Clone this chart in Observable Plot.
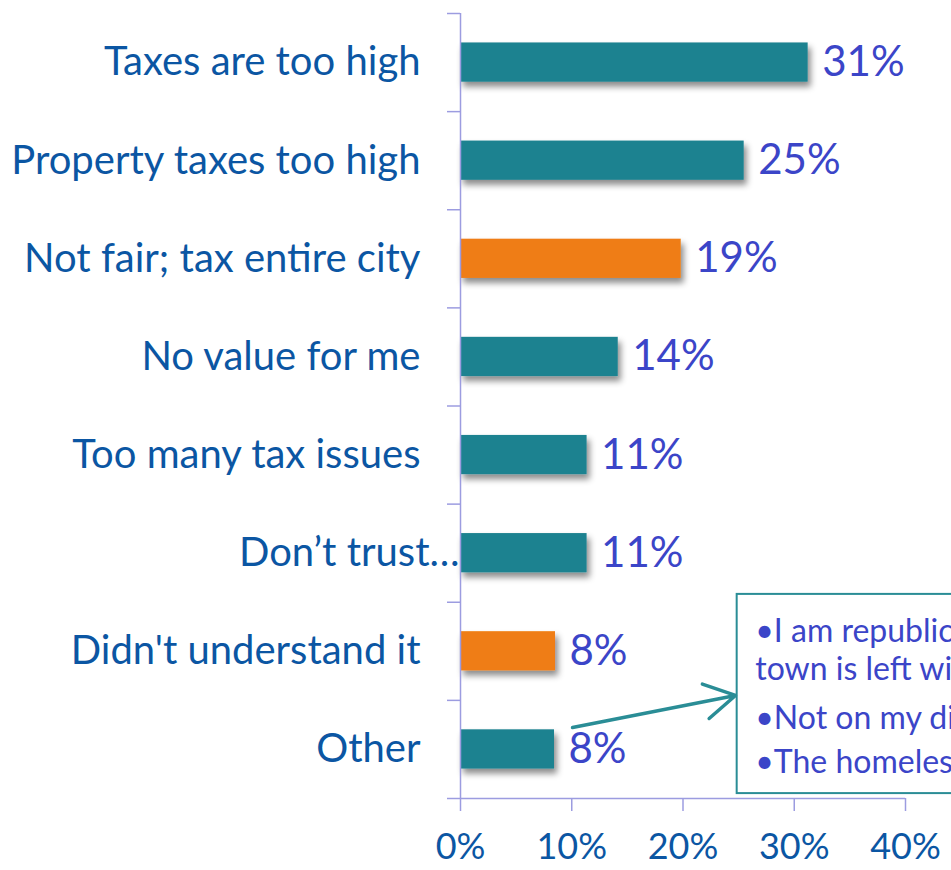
<!DOCTYPE html>
<html>
<head>
<meta charset="utf-8">
<script src="https://cdn.jsdelivr.net/npm/d3@7"></script>
<script src="https://cdn.jsdelivr.net/npm/@observablehq/plot@0.6"></script>
<style>
  html, body { margin: 0; padding: 0; background: #fff; overflow: hidden; }
  #chart { width: 951px; height: 870px; overflow: hidden; }
  #chart svg { overflow: hidden; }
</style>
</head>
<body>
<div id="chart"></div>
<script>
// ---- data ----
const categories = [
  "Taxes are too high",
  "Property taxes too high",
  "Not fair; tax entire city",
  "No value for me",
  "Too many tax issues",
  "Don’t trust…",
  "Didn't understand it",
  "Other"
];
// bar lengths (percent)
const values = [31.25, 25.5, 19.84, 14.18, 11.38, 11.38, 8.54, 8.45];
// value labels as printed on the chart
const valueLabels = ["31%", "25%", "19%", "14%", "11%", "11%", "8%", "8%"];
const highlighted = [false, false, true, false, false, false, true, false];
const xTicks = [0, 10, 20, 30, 40];
const calloutLines = [
  "•I am republican and this",
  "town is left wing",
  "•Not on my dime",
  "•The homeless problem"
];

// ---- styles ----
const teal = "#1f8290";
const orange = "#ef7d14";
const axisColor = "#9c9ce0";
const catColor = "#0b56a3";
const valColor = "#3b45c8";
const boxColor = "#2a8d96";

const data = categories.map((c, i) => ({i, category: c, value: values[i], label: valueLabels[i], hi: highlighted[i]}));
const boundaries = d3.range(categories.length + 1).map(k => k - 0.5);
const callout = calloutLines.map((t, k) => ({t, k}));
const lineY = [5.907, 6.297, 6.787, 7.245];

const chart = Plot.plot({
  width: 951,
  height: 870,
  marginLeft: 460,
  marginRight: 46,
  marginTop: 13,
  marginBottom: 72,
  style: {fontFamily: "Lato, 'Open Sans', sans-serif", background: "#fff"},
  x: {domain: [0, 40], axis: null, label: null},
  y: {domain: [-0.5, 7.5], reverse: true, axis: null, label: null},
  marks: [
    Plot.rect(data, {x1: 0, x2: "value", y1: d => d.i - 0.2, y2: d => d.i + 0.2,
      fill: d => d.hi ? orange : teal}),
    Plot.ruleX([0], {y1: -0.5, y2: 7.5, stroke: axisColor, strokeWidth: 1.5}),
    Plot.ruleY([7.5], {x1: 0, x2: 40, stroke: axisColor, strokeWidth: 1.5}),
    Plot.axisY({ticks: boundaries, tickSize: 13, tickFormat: () => "", label: null,
      stroke: axisColor, strokeWidth: 1.5}),
    Plot.axisX({ticks: xTicks, tickSize: 13, tickPadding: 22, tickFormat: d => d + "%", label: null,
      fontSize: 36, stroke: axisColor, strokeWidth: 1.5, fill: catColor, color: catColor}),
    Plot.text(data.filter(d => !d.category.endsWith("…")), {x: 0, y: "i", text: "category",
      textAnchor: "end", dx: -40, fontSize: 40, fill: catColor}),
    Plot.text(data.filter(d => d.category.endsWith("…")), {x: 0, y: "i", text: "category",
      textAnchor: "end", dx: -1, fontSize: 40, fill: catColor}),
    Plot.text(data, {x: "value", y: "i", text: "label", textAnchor: "start",
      dx: 14, fontSize: 42, fill: valColor}),
    Plot.rect([0], {x1: 24.87, x2: 50, y1: 5.42, y2: 7.45, fill: "#fff", stroke: boxColor, strokeWidth: 2}),
    Plot.text(callout, {x: 26.5, y: d => lineY[d.k], text: "t", textAnchor: "start",
      lineAnchor: "bottom", fontSize: 32, fill: valColor}),
    Plot.arrow([0], {x1: 10.07, y1: 6.777, x2: 24.72, y2: 6.45, bend: 0,
      stroke: boxColor, strokeWidth: 3.5, headLength: 15})
  ]
});

// drop shadow on bars
const svg = d3.select(chart);
const defs = svg.insert("defs", ":first-child");
const f = defs.append("filter").attr("id", "barShadow").attr("x", "-10%").attr("y", "-30%").attr("width", "130%").attr("height", "190%");
f.append("feDropShadow").attr("dx", 3).attr("dy", 5).attr("stdDeviation", 3).attr("flood-color", "#000").attr("flood-opacity", 0.45);
svg.select("g[aria-label='rect']").attr("filter", "url(#barShadow)");

document.getElementById("chart").appendChild(chart);
</script>
</body>
</html>
